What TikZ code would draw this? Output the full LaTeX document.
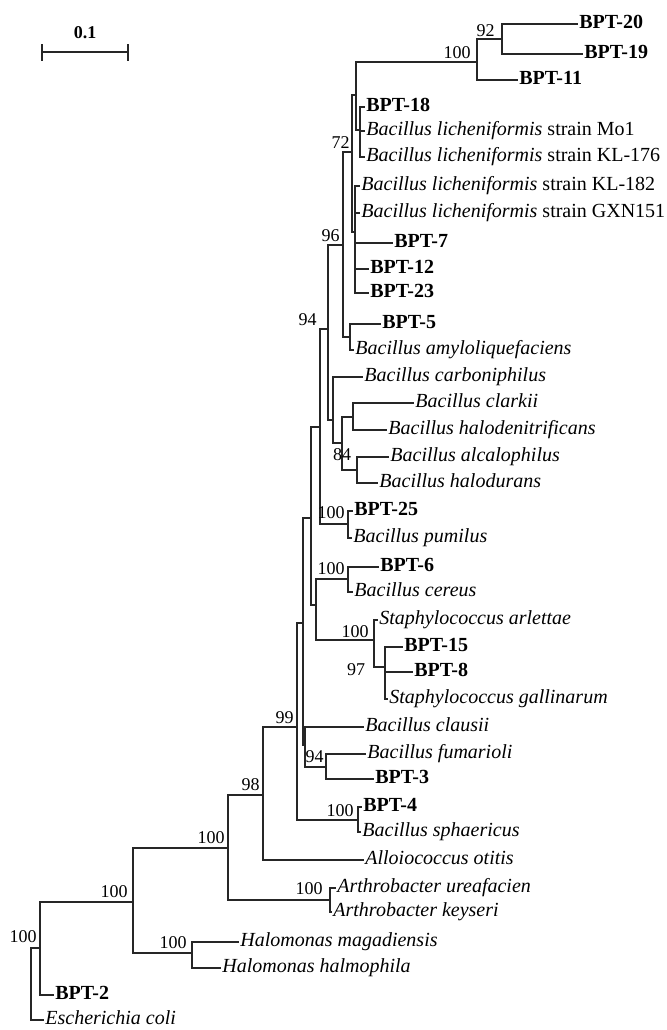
\documentclass[tikz,border=0pt]{standalone}
\usepackage{fontspec}
\setmainfont{Liberation Serif}

\begin{document}
\begin{tikzpicture}[
    x=0.5pt, y=-0.5pt,
    branch/.style={line width=0.6pt, black!85, line cap=rect},
    taxon/.style={anchor=mid west, inner sep=1pt, font=\itshape},
    isolate/.style={anchor=mid west, inner sep=1pt, font=\bfseries},
    boot/.style={anchor=south east, inner sep=0.5pt, font=\fontsize{9}{9}\selectfont},
]
    \useasboundingbox (0,0) rectangle (667,1030);

    % inner nodes of the tree
    \coordinate (root)   at (31,948);
    \coordinate (n40)    at (40,948);
    \coordinate (n133)   at (133,902);
    \coordinate (nhalo)  at (192,953);
    \coordinate (n228)   at (228,848);
    \coordinate (narth)  at (330,900);
    \coordinate (n263)   at (263,795);
    \coordinate (n297)   at (297,727);
    \coordinate (nbpt4)  at (358,820);
    \coordinate (n303)   at (303,623);
    \coordinate (n304)   at (305,745);
    \coordinate (n94b)   at (326,767);
    \coordinate (n310)   at (311,518);
    \coordinate (n316)   at (316,605);
    \coordinate (nbpt6)  at (348,579);
    \coordinate (nstaph) at (374,640);
    \coordinate (n97)    at (385,667);
    \coordinate (n320)   at (320,427);
    \coordinate (nbpt25) at (348,524);
    \coordinate (n94)    at (328,329);
    \coordinate (ncarbo) at (333,420);
    \coordinate (n84)    at (342,443);
    \coordinate (nclark) at (353,417);
    \coordinate (nalc)   at (357,470);
    \coordinate (n96)    at (343,245);
    \coordinate (nbpt5)  at (350,337);
    \coordinate (n72)    at (352,152);
    \coordinate (na)     at (356,95);
    \coordinate (nlich)  at (360,130);
    \coordinate (nkl)    at (355,232);
    \coordinate (n100a)  at (477,62);
    \coordinate (n92)    at (502,39);

    % isolates
    \foreach \name/\x/\y/\txt in {
        bpt20/577/24/BPT-20,
        bpt19/582/54/BPT-19,
        bpt11/517/80/BPT-11,
        bpt18/364/107/BPT-18,
        bpt7/392/243/BPT-7,
        bpt12/368/269/BPT-12,
        bpt23/368/293/BPT-23,
        bpt5/380/324/BPT-5,
        bpt25/352/511/BPT-25,
        bpt6/378/567/BPT-6,
        bpt15/402/647/BPT-15,
        bpt8/412/672/BPT-8,
        bpt3/373/779/BPT-3,
        bpt4/361/807/BPT-4,
        bpt2/53/995/BPT-2}{
        \coordinate (\name) at (\x,\y);
        \node[isolate] (\name-l) at (\name) {\txt};
    }

    % reference strains
    \foreach \name/\x/\y/\txt in {
        mo1/364/131/Bacillus licheniformis \upshape strain Mo1,
        kl176/364/157/Bacillus licheniformis \upshape strain KL-176,
        kl182/359/186/Bacillus licheniformis \upshape strain KL-182,
        gxn/359/213/Bacillus licheniformis \upshape strain GXN151,
        amylo/353/350/Bacillus amyloliquefaciens,
        carbo/362/377/Bacillus carboniphilus,
        clarkii/413/403/Bacillus clarkii,
        halod/386/430/Bacillus halodenitrificans,
        alcal/388/457/Bacillus alcalophilus,
        halodu/377/483/Bacillus halodurans,
        pumil/351/538/Bacillus pumilus,
        cereus/352/592/Bacillus cereus,
        arlet/377/620/Staphylococcus arlettae,
        gallin/387/699/Staphylococcus gallinarum,
        clausii/363/727/Bacillus clausii,
        fumar/365/754/Bacillus fumarioli,
        sphaer/360/832/Bacillus sphaericus,
        alloio/363/860/Alloiococcus otitis,
        ureaf/335/888/Arthrobacter ureafacien,
        keys/331/912/Arthrobacter keyseri,
        magad/238/942/Halomonas magadiensis,
        halmo/220/968/Halomonas halmophila,
        ecoli/43/1020/Escherichia coli}{
        \coordinate (\name) at (\x,\y);
        \node[taxon] (\name-l) at (\name) {\txt};
    }

    % branches
    \foreach \a/\b in {
        root/n40, root/ecoli, n40/n133, n40/bpt2,
        n133/n228, n133/nhalo, nhalo/magad, nhalo/halmo,
        n228/n263, n228/narth, narth/ureaf, narth/keys,
        n263/n297, n263/alloio, n297/n303, n297/nbpt4,
        nbpt4/bpt4, nbpt4/sphaer, n303/n310, n303/n304,
        n304/clausii, n304/n94b, n94b/fumar, n94b/bpt3,
        n310/n320, n310/n316, n316/nbpt6, n316/nstaph,
        nbpt6/bpt6, nbpt6/cereus, nstaph/arlet, nstaph/n97,
        n97/bpt15, n97/bpt8, n97/gallin,
        n320/n94, n320/nbpt25, nbpt25/bpt25, nbpt25/pumil,
        n94/n96, n94/ncarbo, ncarbo/carbo, ncarbo/n84,
        n84/nclark, n84/nalc, nclark/clarkii, nclark/halod,
        nalc/alcal, nalc/halodu, n96/n72, n96/nbpt5,
        nbpt5/bpt5, nbpt5/amylo, n72/na, n72/nkl,
        na/n100a, na/nlich, nlich/bpt18, nlich/mo1, nlich/kl176,
        nkl/kl182, nkl/gxn, nkl/bpt7, nkl/bpt12, nkl/bpt23,
        n100a/n92, n100a/bpt11, n92/bpt20, n92/bpt19}{
        \draw[branch] (\a) |- (\b);
    }

    % bootstrap values
    \node[boot] (b92)    at (496,38)  {92};
    \node[boot] (b100a)  at (472,60)  {100};
    \node[boot] (b72)    at (351,150) {72};
    \node[boot] (b96)    at (341,243) {96};
    \node[boot] (b94)    at (318,327) {94};
    \node[boot, anchor=center] (b84) at (342,455) {84};
    \node[boot] (b25)    at (346,520) {100};
    \node[boot] (b6)     at (346,576) {100};
    \node[boot] (bstaph) at (370,639) {100};
    \node[boot, anchor=center] (b97) at (356,670) {97};
    \node[boot] (b99)    at (295,725) {99};
    \node[boot] (b94b)   at (325,764) {94};
    \node[boot] (b4)     at (355,818) {100};
    \node[boot] (b98)    at (261,792) {98};
    \node[boot] (b228)   at (226,845) {100};
    \node[boot] (barth)  at (324,896) {100};
    \node[boot] (b133)   at (129,899) {100};
    \node[boot] (bhalo)  at (188,950) {100};
    \node[boot] (b40)    at (38,944)  {100};

    % scale bar
    \coordinate (sb0) at (42,52);
    \coordinate (sb1) at (128,52);
    \draw[branch] (sb0) -- (sb1);
    \draw[branch] (sb0) ++(0,-7) -- ++(0,15);
    \draw[branch] (sb1) ++(0,-7) -- ++(0,15);
    \node[font=\bfseries\fontsize{9}{9}\selectfont] (sbl) at (85,33) {0.1};
\end{tikzpicture}
\end{document}
